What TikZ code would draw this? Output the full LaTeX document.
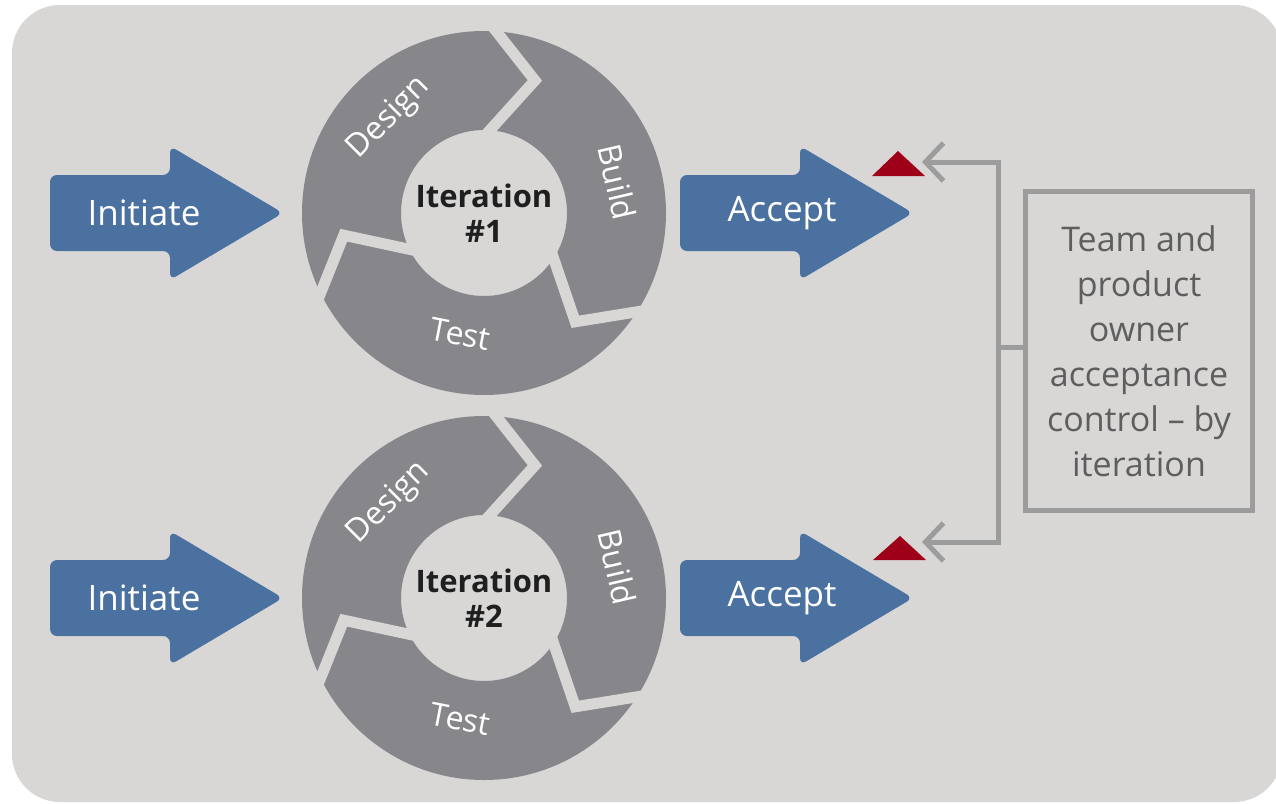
\documentclass[tikz,border=0pt]{standalone}
\usepackage{fontspec}
\setmainfont{Open Sans}
\usetikzlibrary{arrows.meta,positioning}

\definecolor{panel}{HTML}{D8D7D6}
\definecolor{ringgray}{HTML}{87868B}
\definecolor{stepblue}{HTML}{4A71A0}
\definecolor{flagred}{HTML}{9E0019}
\definecolor{linegray}{HTML}{9C9C9C}
\definecolor{notegray}{HTML}{5E5E5E}

\begin{document}
\begin{tikzpicture}[
  x=1pt, y=1pt,
  ring/.style={fill=ringgray, even odd rule},
  gap/.style={draw=panel, line width=11pt, miter limit=20},
  seg/.style={text=white, inner sep=0pt, font=\fontsize{32}{38}\selectfont},
  iter/.style={align=center, text=black!88, font=\bfseries\fontsize{31}{35}\selectfont},
  shaft/.style={fill=stepblue, rounded corners=7pt},
  steplabel/.style={text=white, font=\fontsize{35}{40}\selectfont},
  flag/.style={fill=flagred},
  conn/.style={draw=linegray, line width=5pt},
  back/.style={-{Straight Barb[length=18pt, width=38pt]}},
  note/.style={draw=linegray, line width=5pt, align=center, text=notegray,
               minimum width=227pt, minimum height=319pt,
               font=\fontsize{34}{45}\selectfont},
  pics/bigarrow/.style={code={
    \fill[shaft] (0,-38) -- (120,-38) -- (120,-67) -- (233,0)
                 -- (120,67) -- (120,38) -- (0,38) -- cycle;}}
]
\useasboundingbox (0,0) rectangle (1276,-803);
\fill[white] (0,0) rectangle (1276,-803);
\fill[panel, rounded corners=48pt] (12,-5) rectangle (1282,-802);

% the two iteration cycles
\foreach \cy/\n in {213/1, 598/2} {
  \begin{scope}[shift={(484,-\cy)}]
    \fill[ring] (0,0) circle (182) (0,0) circle (83);
    \foreach \t in {86,-33,-154}
      \draw[gap] ({\t+2}:189) -- ({\t-17}:142) -- ({\t+15}:64);
    \node[seg, rotate=45] at (135:134) {Design};
    \node[seg, rotate=-77] at (13:137) {Build};
    \node[seg, rotate=-11] at (-101:123) {Test};
    \node[iter] (iter\n) at (0,0) {Iteration\\\#\n};
  \end{scope}
}

% initiate and accept steps
\foreach \ry/\n in {213/1, 598/2} {
  \pic at (50,-\ry) {bigarrow};
  \node[steplabel] (init\n) at (144,-\ry) {Initiate};
  \pic at (680,-\ry) {bigarrow};
  \node[steplabel] (accept\n) at (782,-\ry) {Accept};
}

\fill[flag] (872,-176) -- (925,-176) -- (898,-151) -- cycle;
\fill[flag] (873,-560) -- (926,-560) -- (900,-536) -- cycle;

% acceptance control
\node[note] (ctrl) at (1139,-351)
  {Team and\\product\\owner\\acceptance\\control -- by\\iteration};
\coordinate (fork) at (998,-347);
\coordinate (tip1) at (922,-162);
\coordinate (tip2) at (922,-542);
\draw[conn] (fork) -- (fork -| ctrl.west);
\draw[conn, back] (fork) |- (tip1);
\draw[conn, back] (fork) |- (tip2);
\end{tikzpicture}
\end{document}
